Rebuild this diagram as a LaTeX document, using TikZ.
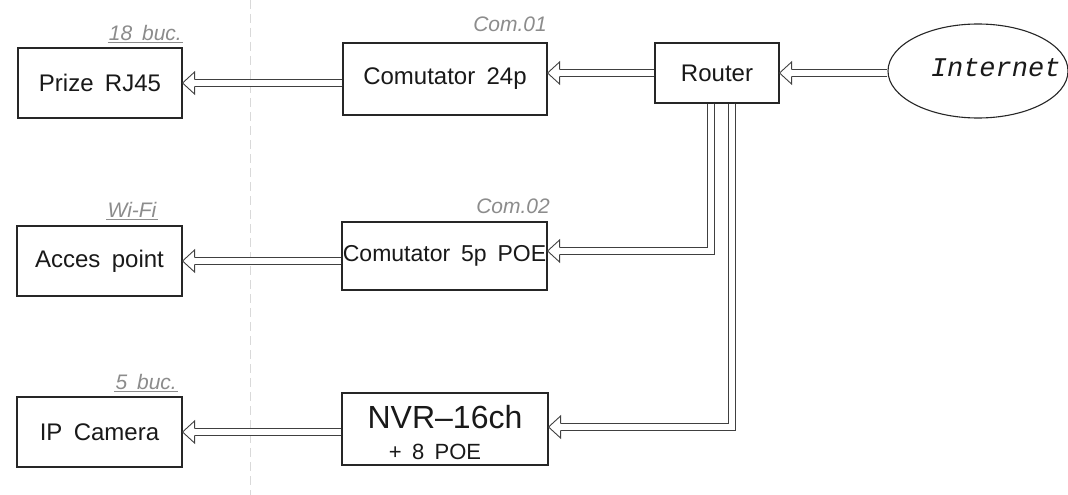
\documentclass[tikz,border=0pt]{standalone}
\usepackage{fontspec}
\setmainfont[WordSpace=1.7]{Liberation Sans}
\newfontfamily\inetfont{Liberation Mono}
\usetikzlibrary{shapes.geometric}
\begin{document}
\begin{tikzpicture}[x=1pt,y=-1pt,
  box/.style={draw=black!85, line width=1.1pt, rectangle, inner sep=0pt,
    font=\fontsize{24}{28}\selectfont, text=black!90},
  lbl/.style={font=\itshape\fontsize{21}{24}\selectfont, text=black!45, inner sep=1pt},
  ul/.style={draw=black!45, line width=0.7pt},
  dbl/.style={draw=black!75, line width=0.9pt, double=white, double distance=6pt},
  pics/hhead/.style={code={\draw[black!75, line width=0.9pt, line join=miter]
      (12,-3.45) -- (12,-11) -- (0,0) -- (12,11) -- (12,3.45);}}
]
\useasboundingbox (0,0) rectangle (1068,495);
\fill[white] (0,0) rectangle (1068,495);

% faint scan fold line
\draw[black!15, line width=0.6pt, dash pattern=on 9pt off 5pt] (250,0) -- (250,495);

% nodes
\node[box, minimum width=164pt, minimum height=70pt] (prize) at (100,83) {Prize RJ45};
\node[box, minimum width=204pt, minimum height=72pt] (com24) at (445,79) {Comutator 24p};
\node[box, minimum width=124pt, minimum height=60pt] (router) at (717,73) {Router};
\node[draw=black!85, line width=1.1pt, ellipse, minimum width=180pt, minimum height=94pt,
      inner sep=0pt] (inet) at (978,71) {};
\node[font=\inetfont\itshape\fontsize{27}{30}\selectfont, text=black!90, anchor=east]
      (inettxt) at (1064,68) {Internet};

\node[box, minimum width=165pt, minimum height=70pt] (acces) at (99.5,261) {Acces point};
\node[box, minimum width=205pt, minimum height=68pt,
      font=\fontsize{23}{26}\selectfont] (com5p) at (444.5,256) {Comutator 5p POE};

\node[box, minimum width=165pt, minimum height=70pt] (ipcam) at (99.5,432) {IP Camera};
\node[box, minimum width=206pt, minimum height=72pt] (nvr) at (445,429) {};
\node[font=\fontsize{32}{34}\selectfont, text=black!90, inner sep=0pt] (nvr1)
      at ([yshift=12pt]nvr.center) {NVR–16ch};
\node[font=\fontsize{22}{24}\selectfont, text=black!90, inner sep=0pt] (nvr2)
      at ([xshift=-10pt,yshift=-23pt]nvr.center) {+ 8 POE};

% labels
\node[lbl, anchor=south east] (l18) at (183,42) {18 buc.};
\draw[ul] (l18.south west) -- (l18.south east);
\node[lbl, anchor=base east] (lc1) at (548,32) {Com.01};
\node[lbl, anchor=south] (lwifi) at (132,219) {Wi-Fi};
\draw[ul] (lwifi.south west) -- (lwifi.south east);
\node[lbl, anchor=base east] (lc2) at (551,213) {Com.02};
\node[lbl, anchor=south east] (l5) at (178,391) {5 buc.};
\draw[ul] (l5.south west) -- (l5.south east);

% connectors
\draw[dbl] (inet.west |- router.east) -- ([xshift=12pt]router.east);
\pic at (router.east) {hhead};

\draw[dbl] (router.west) -- ([xshift=12pt]com24.east |- router.west);
\pic at (com24.east |- router.west) {hhead};

\draw[dbl] (com24.west |- prize.east) -- ([xshift=12pt]prize.east);
\pic at (prize.east) {hhead};

\coordinate (r1) at ([xshift=-6pt]router.south);
\coordinate (r2) at ([xshift=15pt]router.south);
\coordinate (c5in) at ([yshift=5pt]com5p.east);
\coordinate (nvin) at ([yshift=2pt]nvr.east);

\draw[dbl] (r1) |- ([xshift=12pt]c5in);
\pic at (c5in) {hhead};

\draw[dbl] (r2) |- ([xshift=12pt]nvin);
\pic at (nvin) {hhead};

\draw[dbl] (com5p.west |- acces.east) -- ([xshift=12pt]acces.east);
\pic at (acces.east) {hhead};

\draw[dbl] (nvr.west |- ipcam.east) -- ([xshift=12pt]ipcam.east);
\pic at (ipcam.east) {hhead};
\end{tikzpicture}
\end{document}
